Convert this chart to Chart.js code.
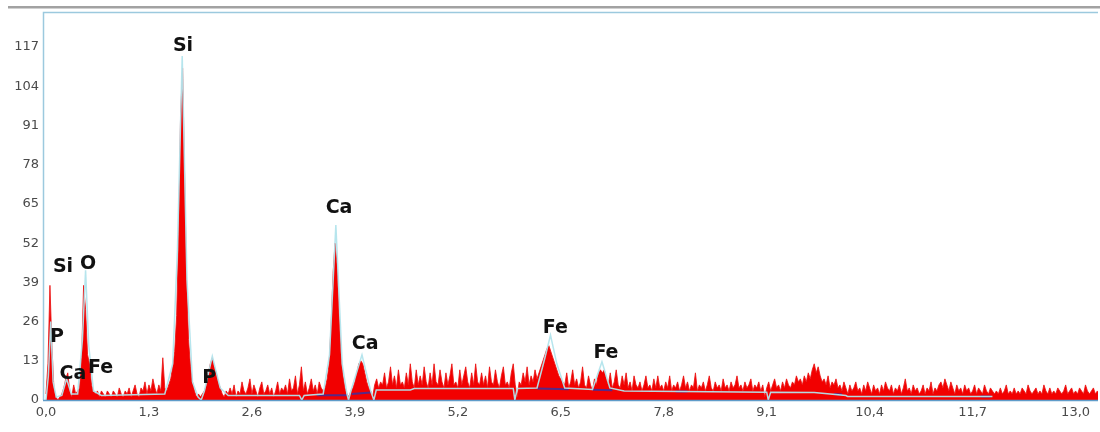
<!DOCTYPE html>
<html>
<head>
<meta charset="utf-8">
<script src="https://cdn.jsdelivr.net/npm/chart.js@4.4.1/dist/chart.umd.min.js"></script>
<style>
  html, body { margin: 0; padding: 0; background: #ffffff; }
  #wrap { width: 1100px; height: 432px; position: relative; }
</style>
</head>
<body>
<div id="wrap"><canvas id="c"></canvas></div>
<script>
// ---- data ----
const channelWidth = 0.025; // keV per channel
const counts = [
  2, 12, 38, 18, 4, 1, 0, 1, 2, 4,
  7, 9, 3, 1, 5, 2, 3, 4, 14, 38,
  30, 15, 12, 5, 3, 2, 3, 1, 3, 2,
  1, 3, 2, 1, 3, 2, 1, 4, 2, 1,
  3, 2, 4, 1, 3, 5, 2, 1, 4, 3,
  6, 2, 5, 3, 7, 4, 2, 5, 3, 14,
  4, 3, 5, 7, 11, 16, 28, 55, 95, 110,
  75, 40, 20, 11, 6, 3, 1, 2, 1, 2,
  3, 5, 9, 12, 14, 11, 9, 6, 4, 2,
  1, 3, 2, 4, 2, 5, 1, 3, 2, 6,
  3, 2, 4, 7, 2, 5, 3, 1, 4, 6,
  2, 3, 5, 2, 4, 1, 3, 6, 2, 4,
  3, 5, 2, 7, 3, 4, 8, 2, 5, 11,
  3, 6, 2, 4, 7, 3, 5, 2, 6, 4,
  3, 4, 7, 12, 25, 42, 52, 45, 28, 15,
  8, 4, 2, 1, 3, 4, 6, 9, 12, 13,
  12, 9, 6, 4, 3, 1, 5, 7, 4, 6,
  5, 9, 4, 6, 11, 5, 8, 4, 10, 5,
  6, 4, 9, 5, 12, 6, 4, 10, 5, 8,
  5, 11, 6, 4, 9, 5, 12, 6, 5, 10,
  6, 4, 9, 5, 8, 12, 5, 6, 4, 10,
  5, 8, 11, 6, 4, 9, 5, 12, 6, 5,
  9, 5, 8, 4, 11, 6, 5, 10, 6, 4,
  8, 11, 5, 6, 4, 9, 12, 5, 1, 6,
  5, 9, 6, 11, 5, 8, 6, 10, 7, 9,
  11, 13, 15, 17, 18, 16, 14, 12, 10, 8,
  7, 6, 5, 9, 4, 6, 10, 5, 7, 4,
  6, 11, 5, 4, 8, 5, 3, 7, 5, 9,
  10, 9, 10, 7, 5, 9, 4, 6, 10, 5,
  4, 8, 5, 9, 4, 6, 3, 8, 5, 4,
  6, 3, 5, 8, 4, 5, 3, 7, 4, 8,
  4, 5, 3, 6, 4, 8, 3, 5, 4, 6,
  3, 5, 8, 4, 6, 3, 5, 4, 9, 3,
  5, 4, 6, 3, 5, 8, 4, 3, 6, 4,
  5, 3, 7, 4, 5, 3, 6, 4, 5, 8,
  4, 5, 3, 6, 4, 5, 7, 3, 5, 4,
  6, 3, 5, 1, 4, 6, 3, 5, 7, 4,
  5, 3, 6, 4, 7, 5, 4, 6, 5, 8,
  6, 7, 5, 8, 6, 9, 7, 10, 12, 9,
  11, 8, 6, 7, 5, 8, 4, 6, 5, 7,
  4, 5, 3, 6, 4, 2, 5, 3, 4, 6,
  3, 4, 2, 5, 3, 6, 4, 2, 5, 3,
  4, 2, 5, 3, 6, 4, 3, 5, 2, 4,
  3, 5, 2, 4, 7, 3, 4, 2, 5, 3,
  4, 2, 3, 5, 2, 4, 3, 6, 2, 4,
  3, 5, 6, 4, 7, 5, 3, 6, 4, 2,
  5, 3, 4, 2, 5, 3, 4, 2, 3, 5,
  2, 4, 3, 2, 5, 3, 2, 4, 3, 2,
  3, 2, 4, 2, 3, 5, 2, 3, 2, 4,
  2, 3, 2, 4, 3, 2, 5, 3, 2, 3,
  4, 2, 3, 2, 5, 3, 2, 4, 2, 3,
  2, 4, 3, 2, 3, 5, 2, 3, 4, 2,
  3, 2, 4, 3, 2, 5, 3, 2, 3, 4,
  2, 3, 2
];

const fitE = [0, 0.03, 0.06, 0.09, 0.13, 0.2, 0.26, 0.32, 0.4, 0.46,
  0.5, 0.54, 0.6, 0.7, 1.5, 1.6, 1.66, 1.72, 1.78, 1.85,
  1.92, 1.96, 2.0, 2.1, 2.2, 2.3, 3.2, 3.23, 3.26, 3.5,
  3.58, 3.66, 3.74, 3.8, 3.82, 3.85, 3.99, 4.1, 4.14, 4.17,
  4.6, 4.65, 5.9, 5.92, 5.95, 6.2, 6.3, 6.37, 6.45, 6.55,
  6.9, 7.02, 7.12, 7.3, 9.1, 9.12, 9.15, 9.7, 10.1, 10.12, 11.95];
const fitCounts = [0, 8, 26, 6, 1, 1.5, 7, 2, 2, 20,
  43, 18, 3, 1.5, 2, 12, 50, 114, 40, 6,
  1, 0, 3, 14.5, 4, 1.5, 1.5, 0, 1.5, 2,
  15, 58, 12, 2, 0, 3, 15, 3, 0, 3.3,
  3.3, 3.8, 3.8, 0, 3.8, 4, 14, 21.5, 12, 4,
  3.5, 12.7, 4, 3, 2.6, 0, 2.6, 2.5, 1.5, 1.2, 1.2];

const bgE = [3.42, 3.8, 3.81, 3.86, 4.1, 4.11, 6.2, 6.6, 6.61, 6.9, 7.15, 7.16,
  7.95, 8.1, 8.11, 9.95, 10.05, 10.06, 11.8, 11.93];
const bgCounts = [1.6, 1.6, null, 2, 2.5, null, 3.8, 3.6, null, 3.4, 3.2, null,
  2.8, 2.8, null, 2, 1.8, null, 1.2, 1.2];

const xTicks = [0, 1.3, 2.6, 3.9, 5.2, 6.5, 7.8, 9.1, 10.4, 11.7, 13.0];
const yTicks = [0, 13, 26, 39, 52, 65, 78, 91, 104, 117];

const peakLabels = ['Si', 'Si', 'O', 'P', 'Ca', 'Fe', 'P', 'Ca', 'Ca', 'Fe', 'Fe'];
const peakE      = [1.73, 0.215, 0.53, 0.14, 0.34, 0.69, 2.06, 3.70, 4.03, 6.43, 7.07];
const peakCounts = [117.3, 44, 45, 21, 8.7, 10.7, 7.3, 63.7, 18.7, 24, 15.7];

// ---- build datasets ----
const spectrum = counts.map((c, i) => ({ x: i * channelWidth, y: c }));
const fit = fitE.map((e, i) => ({ x: e, y: fitCounts[i] }));
const bg = bgE.map((e, i) => ({ x: e, y: bgCounts[i] }));

const framePlugin = {
  id: 'frame',
  beforeDraw(chart) {
    const ctx = chart.ctx;
    ctx.save();
    ctx.fillStyle = '#ffffff';
    ctx.fillRect(0, 0, chart.width, chart.height);
    ctx.restore();
  },
  afterDraw(chart) {
    const ctx = chart.ctx;
    const a = chart.chartArea;
    ctx.save();
    ctx.fillStyle = '#a2a2a2';
    ctx.fillRect(8, 6, chart.width - 8, 2.5);
    ctx.strokeStyle = '#9cc9de';
    ctx.lineWidth = 1.5;
    ctx.beginPath();
    ctx.moveTo(a.left - 0.5, a.bottom);
    ctx.lineTo(a.left - 0.5, a.top - 0.5);
    ctx.lineTo(a.right, a.top - 0.5);
    ctx.stroke();
    ctx.strokeStyle = '#5f9cc9';
    ctx.lineWidth = 1.5;
    ctx.beginPath();
    ctx.moveTo(a.left - 1, a.bottom + 0.5);
    ctx.lineTo(a.right, a.bottom + 0.5);
    ctx.stroke();
    ctx.restore();
  }
};

const labelPlugin = {
  id: 'peakLabels',
  afterDatasetsDraw(chart) {
    const ctx = chart.ctx;
    const xs = chart.scales.x, ys = chart.scales.y;
    ctx.save();
    ctx.font = 'bold 19px "DejaVu Sans"';
    ctx.fillStyle = '#111111';
    ctx.textAlign = 'center';
    ctx.textBaseline = 'middle';
    peakLabels.forEach((t, i) => {
      ctx.fillText(t, xs.getPixelForValue(peakE[i]), ys.getPixelForValue(peakCounts[i]));
    });
    ctx.restore();
  }
};

new Chart(document.getElementById('c'), {
  type: 'line',
  data: {
    datasets: [
      {
        label: 'fit',
        data: fit,
        borderColor: 'rgba(178,228,236,0.95)',
        borderWidth: 1.5,
        pointRadius: 0,
        fill: false,
        tension: 0,
        order: 1
      },
      {
        label: 'background',
        data: bg,
        borderColor: 'rgba(70,45,150,0.9)',
        borderWidth: 2,
        pointRadius: 0,
        fill: false,
        spanGaps: false,
        tension: 0,
        order: 2
      },
      {
        label: 'spectrum',
        data: spectrum,
        borderColor: 'rgba(235,20,20,0.85)',
        backgroundColor: '#f20000',
        borderWidth: 1,
        pointRadius: 0,
        fill: 'origin',
        tension: 0,
        order: 3
      }
    ]
  },
  options: {
    responsive: true,
    maintainAspectRatio: false,
    animation: false,
    events: [],
    layout: { padding: { top: 13, right: 2, left: 0, bottom: 0 } },
    plugins: { legend: { display: false }, tooltip: { enabled: false } },
    scales: {
      x: {
        type: 'linear',
        min: -0.025,
        max: 13.283,
        grid: { display: false, drawTicks: false },
        border: { display: false },
        afterBuildTicks(s) { s.ticks = xTicks.map(v => ({ value: v })); },
        afterFit(s) { s.height = 32; },
        ticks: {
          padding: 5,
          maxRotation: 0,
          autoSkip: false,
          color: '#4a4a4a',
          font: { family: 'DejaVu Sans', size: 13 },
          callback: v => Number(v).toFixed(1).replace('.', ',')
        }
      },
      y: {
        type: 'linear',
        min: 0,
        max: 128.3,
        grid: { display: false, drawTicks: false },
        border: { display: false },
        afterBuildTicks(s) { s.ticks = yTicks.map(v => ({ value: v })); },
        afterFit(s) { s.width = 44; },
        ticks: {
          padding: 5,
          autoSkip: false,
          color: '#4a4a4a',
          font: { family: 'DejaVu Sans', size: 13 },
          callback: v => String(v)
        }
      }
    }
  },
  plugins: [framePlugin, labelPlugin]
});
</script>
</body>
</html>
